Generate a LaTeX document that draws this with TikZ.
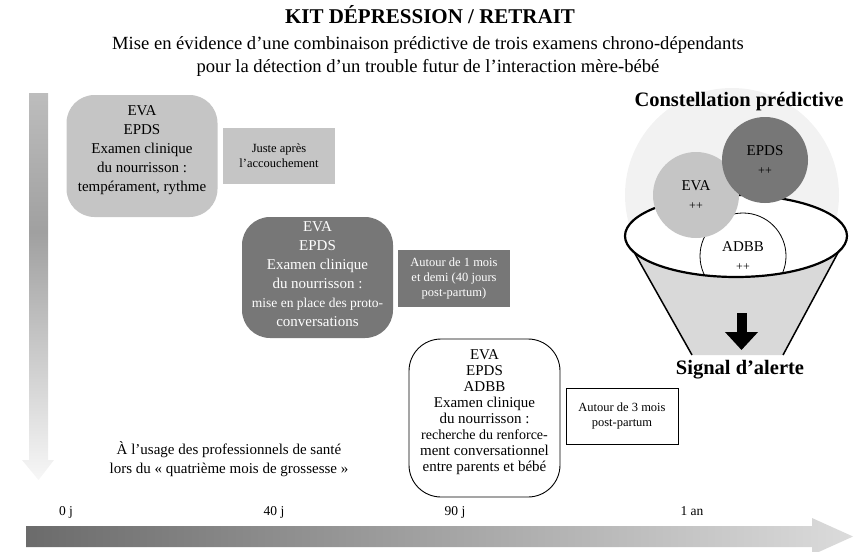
\documentclass[tikz,border=0pt]{standalone}
\usepackage{fontspec}
\setmainfont{Liberation Serif}
\usetikzlibrary{arrows.meta, positioning}
\usepackage{xcolor}
\definecolor{pale}{HTML}{C5C5C5}
\definecolor{dark}{HTML}{777777}
\definecolor{halo}{HTML}{F2F2F2}
\definecolor{funnelgrey}{HTML}{D9D9D9}
\definecolor{vlow}{HTML}{F7F7F7}
\definecolor{vmid}{HTML}{A0A0A0}
\definecolor{vhigh}{HTML}{BDBDBD}
\pgfdeclareverticalshading{timefade}{100bp}{color(0bp)=(vlow); color(25bp)=(vlow); color(57bp)=(vmid); color(75bp)=(vhigh); color(100bp)=(vhigh)}
\def\boxw{151pt}

\begin{document}
\begin{tikzpicture}[x=1pt, y=-1pt, inner sep=0pt]
    \tikzstyle{exam}=[rectangle, rounded corners=28pt, minimum width=\boxw]
    \tikzstyle{exam text}=[align=center, font=\fontsize{15}{19}\selectfont]
    \tikzstyle{when}=[rectangle, minimum width=112pt, minimum height=56pt, align=center, font=\fontsize{12.5}{15}\selectfont]
    \tikzstyle{score}=[circle, minimum size=86pt, align=center, font=\fontsize{15}{19}\selectfont]
    \tikzstyle{headline}=[anchor=base, font=\fontsize{20.5}{24}\selectfont\bfseries]
    \tikzstyle{day}=[anchor=base, font=\fontsize{13.5}{15}\selectfont]

    \useasboundingbox (0,0) rectangle (858,551);

    % Title
    \node[headline, font=\fontsize{21}{24}\selectfont\bfseries] (title) at (430,24) {KIT DÉPRESSION / RETRAIT};
    \node[align=center, font=\fontsize{18.6}{23}\selectfont] (subtitle) at (428,57) {Mise en évidence d’une combinaison prédictive de trois examens chrono-dépendants\\pour la détection d’un trouble futur de l’interaction mère-bébé};

    % Draw the time arrows
    \shade[shading=timefade] (29,93) -- (48,93) -- (48,460) -- (54,460) -- (38.5,480) -- (22,460) -- (29,460) -- cycle;
    \shade[left color=black!58, right color=black!14] (26,526) -- (812,526) -- (812,518) -- (853,536.5) -- (812,555) -- (812,547) -- (26,547) -- cycle;

    \node[day] (d-0) at (66,515) {0 j};
    \node[day] (d-40) at (274,515) {40 j};
    \node[day] (d-90) at (455,515) {90 j};
    \node[day] (d-365) at (692,515) {1 an};

    \node[align=center, font=\fontsize{15}{19}\selectfont] (usage) at (229,459) {À l’usage des professionnels de santé\\lors du « quatrième mois de grossesse »};

    % Draw the three exams
    \node[exam, fill=pale, minimum height=122pt] (exam-1) at (142,156) {};
    \node[exam text] (exam-1-text) at (142,150) {EVA\\EPDS\\Examen clinique\\du nourrisson :\\tempérament, rythme};
    \node[when, fill=pale] (when-1) at (279,156) {Juste après\\l’accouchement};

    \node[exam, fill=dark, minimum height=121pt] (exam-2) at (317.5,277.5) {};
    \node[exam text, text=white] (exam-2-text) at (317.5,274) {EVA\\EPDS\\Examen clinique\\du nourrisson :\\{\fontsize{13.5}{19}\selectfont mise en place des proto-}\\conversations};
    \node[when, fill=dark, text=white, minimum height=57pt] (when-2) at (454,278.5) {Autour de 1 mois\\et demi (40 jours\\post-partum)};

    \node[exam, draw, line width=0.9pt, rounded corners=32pt, minimum height=158pt] (exam-3) at (484.5,418) {};
    \node[exam text, font=\fontsize{15}{16}\selectfont] (exam-3-text) at (484.5,412) {EVA\\EPDS\\ADBB\\Examen clinique\\du nourrisson :\\{\fontsize{14}{16}\selectfont recherche du renforce-}\\ment conversationnel\\entre parents et bébé};
    \node[when, draw, line width=0.8pt] (when-3) at (622,416) {Autour de 3 mois\\post-partum};

    % Draw the funnel
    \fill[halo] (732,195) circle[radius=107pt];
    \fill[funnelgrey] (625,236) -- (692,355) -- (783,355) -- (847,236) -- cycle;
    \draw[line width=1.5pt] (625,236) -- (692,355) (783,355) -- (847,236);
    \fill[white] (736,236) ellipse[x radius=111pt, y radius=41pt];
    \begin{scope}
        \clip (736,236) ellipse[x radius=111pt, y radius=41pt];
        \node[score, draw, line width=0.8pt, fill=white] (adbb) at (743,256) {ADBB\\{\fontsize{12}{19}\selectfont ++}};
    \end{scope}
    \draw[line width=2.2pt] (736,236) ellipse[x radius=111pt, y radius=41pt];
    \node[score, fill=pale] (eva) at (696,195) {EVA\\{\fontsize{12}{19}\selectfont ++}};
    \node[score, fill=dark] (epds) at (765,160) {EPDS\\{\fontsize{12}{19}\selectfont ++}};

    \node[headline] (constellation) at (739,106) {Constellation prédictive};
    \coordinate (drop) at (741.5,313);
    \draw[line width=10pt, -{Triangle[width=32pt, length=18pt]}] (drop) -- ++(0,37);
    \node[headline] (alert) at (740,374) {Signal d’alerte};
\end{tikzpicture}
\end{document}
